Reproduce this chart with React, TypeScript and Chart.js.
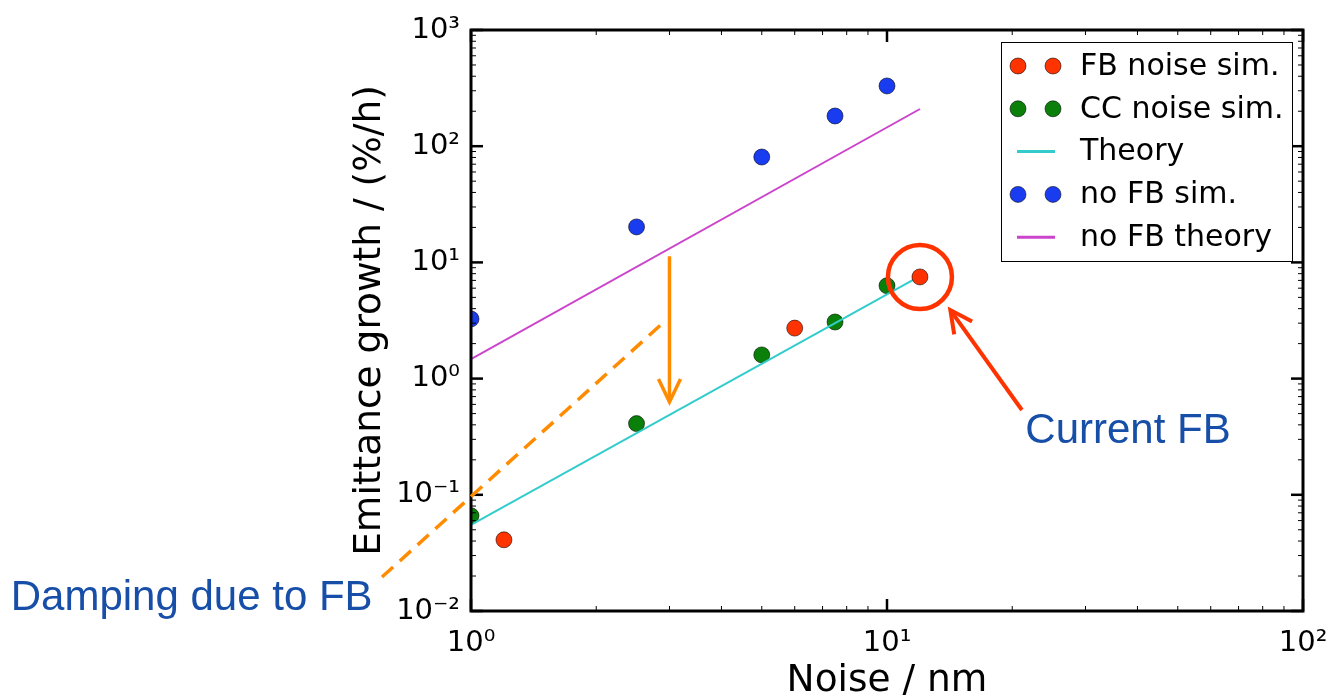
import React, { useEffect, useRef } from 'react';
import { Chart, registerables } from 'chart.js';

Chart.register(...registerables);

// ---- data ----
const fbNoiseX = [1.2, 6, 12];
const fbNoiseY = [0.041, 2.72, 7.5];
const ccNoiseX = [1, 2.5, 5, 7.5, 10];
const ccNoiseY = [0.066, 0.41, 1.6, 3.07, 6.3];
const theoryX = [1, 12];
const theoryY = [0.055, 7.6];
const noFbSimX = [1, 2.5, 5, 7.5, 10];
const noFbSimY = [3.26, 20.2, 80.7, 182, 330];
const noFbTheoryX = [1, 12];
const noFbTheoryY = [1.47, 209];

const xTickValues = [1, 10, 100];
const xTickLabels = ['10⁰', '10¹', '10²'];
const yTickValues = [0.01, 0.1, 1, 10, 100, 1000];
const yTickLabels = ['10⁻²', '10⁻¹', '10⁰', '10¹', '10²', '10³'];

const xTitle = 'Noise / nm';
const yTitle = 'Emittance growth / (%/h)';

// ---- annotations (data coordinates) ----
const dampingLineX = [0.611, 2.91];
const dampingLineY = [0.0196, 3.07];
const dampingArrowX = [3.0, 3.0];
const dampingArrowY = [11.3, 0.63];
const currentFbCircle = [12, 7.5];
const currentFbArrowX = [21.1, 14.2];
const currentFbArrowY = [0.537, 3.89];
const currentFbLabel = 'Current FB';
const currentFbLabelPos = [21.5, 0.279];
const dampingLabel = 'Damping due to FB';
const dampingLabelPos = [0.58, 0.0102];

const FONT = '"DejaVu Sans", sans-serif';
const RED = '#ff3300';
const GREEN = '#0a800a';
const BLUE = '#1a3cf0';
const CYAN = '#33cccc';
const MAGENTA = '#cc44cc';
const ORANGE = '#ff8c00';
const TEXT_BLUE = '#164ea8';

const pts = (xs: number[], ys: number[]) => xs.map((x, i) => ({ x, y: ys[i] }));

const isMajor = (v: number) => Math.abs(Math.log10(v) - Math.round(Math.log10(v))) < 1e-6;

function minorValues(min: number, max: number) {
  const out: number[] = [];
  for (let e = Math.floor(Math.log10(min)); e < Math.ceil(Math.log10(max)); e++) {
    for (let k = 1; k <= 9; k++) out.push(k * Math.pow(10, e));
  }
  out.push(max);
  return out;
}

const framePlugin = {
  id: 'frameTicks',
  afterDatasetsDraw(chart: any) {
    const { ctx, chartArea: a, scales } = chart;
    const x = scales.x, y = scales.y;
    ctx.save();
    ctx.strokeStyle = '#000';
    const seg = (x1: number, y1: number, x2: number, y2: number) => {
      ctx.beginPath(); ctx.moveTo(x1, y1); ctx.lineTo(x2, y2); ctx.stroke();
    };
    minorValues(x.min, x.max).forEach((v) => {
      const px = x.getPixelForValue(v);
      const maj = isMajor(v);
      const L = maj ? 12 : 5;
      ctx.lineWidth = maj ? 2.5 : 1;
      seg(px, a.bottom, px, a.bottom - L);
      seg(px, a.top, px, a.top + L);
    });
    minorValues(y.min, y.max).forEach((v) => {
      const py = y.getPixelForValue(v);
      const maj = isMajor(v);
      const L = maj ? 12 : 5;
      ctx.lineWidth = maj ? 2.5 : 1;
      seg(a.left, py, a.left + L, py);
      seg(a.right, py, a.right - L, py);
    });
    ctx.lineWidth = 3;
    ctx.strokeRect(a.left, a.top, a.right - a.left, a.bottom - a.top);
    ctx.restore();
  },
};

const legendPlugin = {
  id: 'mplLegend',
  afterDraw(chart: any) {
    const { ctx, chartArea: a } = chart;
    const w = 291, h = 219;
    const left = a.right - 11 - w;
    const top = a.top + 12;
    ctx.save();
    ctx.fillStyle = '#fff';
    ctx.fillRect(left, top, w, h);
    ctx.strokeStyle = '#000';
    ctx.lineWidth = 1;
    ctx.strokeRect(left + 0.5, top + 0.5, w, h);
    ctx.font = `30px ${FONT}`;
    ctx.textBaseline = 'middle';
    ctx.textAlign = 'left';
    chart.data.datasets.forEach((ds: any, i: number) => {
      const cy = top + 24 + i * 42.8;
      if (ds.showLine) {
        ctx.strokeStyle = ds.borderColor;
        ctx.lineWidth = 3;
        ctx.beginPath(); ctx.moveTo(left + 16, cy); ctx.lineTo(left + 54, cy); ctx.stroke();
      } else {
        [left + 17, left + 52].forEach((cx) => {
          ctx.beginPath();
          ctx.arc(cx, cy, 8, 0, Math.PI * 2);
          ctx.fillStyle = ds.backgroundColor;
          ctx.fill();
          ctx.lineWidth = 1;
          ctx.strokeStyle = 'rgba(0,0,0,0.55)';
          ctx.stroke();
        });
      }
      ctx.fillStyle = '#000';
      ctx.fillText(ds.label, left + 79, cy + 1);
    });
    ctx.restore();
  },
};

function arrowHead(ctx: CanvasRenderingContext2D, x1: number, y1: number, x2: number, y2: number, back: number, half: number) {
  const dx = x2 - x1, dy = y2 - y1;
  const len = Math.hypot(dx, dy);
  const ux = dx / len, uy = dy / len;
  const bx = x2 - ux * back, by = y2 - uy * back;
  ctx.beginPath();
  ctx.moveTo(bx - uy * half, by + ux * half);
  ctx.lineTo(x2, y2);
  ctx.lineTo(bx + uy * half, by - ux * half);
  ctx.stroke();
}

const annotationPlugin = {
  id: 'annotations',
  afterDraw(chart: any) {
    const { ctx, scales } = chart;
    const X = (v: number) => scales.x.getPixelForValue(v);
    const Y = (v: number) => scales.y.getPixelForValue(v);
    ctx.save();
    // dashed damping line
    ctx.strokeStyle = ORANGE;
    ctx.lineWidth = 3.5;
    ctx.setLineDash([15, 9]);
    ctx.beginPath();
    ctx.moveTo(X(dampingLineX[0]), Y(dampingLineY[0]));
    ctx.lineTo(X(dampingLineX[1]), Y(dampingLineY[1]));
    ctx.stroke();
    ctx.setLineDash([]);
    // damping arrow
    const ax1 = X(dampingArrowX[0]), ay1 = Y(dampingArrowY[0]);
    const ax2 = X(dampingArrowX[1]), ay2 = Y(dampingArrowY[1]);
    ctx.lineWidth = 3.5;
    ctx.beginPath(); ctx.moveTo(ax1, ay1); ctx.lineTo(ax2, ay2); ctx.stroke();
    ctx.lineJoin = 'miter';
    arrowHead(ctx, ax1, ay1, ax2, ay2, 23, 11);
    // current FB circle
    ctx.strokeStyle = RED;
    ctx.lineWidth = 4.5;
    ctx.beginPath();
    ctx.arc(X(currentFbCircle[0]), Y(currentFbCircle[1]), 32, 0, Math.PI * 2);
    ctx.stroke();
    // current FB arrow
    const rx1 = X(currentFbArrowX[0]), ry1 = Y(currentFbArrowY[0]);
    const rx2 = X(currentFbArrowX[1]), ry2 = Y(currentFbArrowY[1]);
    ctx.lineWidth = 4;
    ctx.beginPath(); ctx.moveTo(rx1, ry1); ctx.lineTo(rx2, ry2); ctx.stroke();
    arrowHead(ctx, rx1, ry1, rx2, ry2, 22, 11);
    // texts
    ctx.fillStyle = TEXT_BLUE;
    ctx.font = '42px "Liberation Sans", Arial, sans-serif';
    ctx.textBaseline = 'alphabetic';
    ctx.textAlign = 'left';
    ctx.fillText(currentFbLabel, X(currentFbLabelPos[0]), Y(currentFbLabelPos[1]));
    ctx.textAlign = 'right';
    ctx.fillText(dampingLabel, X(dampingLabelPos[0]), Y(dampingLabelPos[1]));
    ctx.restore();
  },
};

export default function App() {
  const ref = useRef<HTMLCanvasElement>(null);
  useEffect(() => {
    document.body.style.margin = '0';
    document.body.style.overflow = 'hidden';
    const canvas = ref.current;
    if (!canvas) return;
    const chart = new Chart(canvas, {
      type: 'scatter',
      data: {
        datasets: [
          {
            label: 'FB noise sim.', data: pts(fbNoiseX, fbNoiseY), backgroundColor: RED,
            borderColor: 'rgba(0,0,0,0.55)', borderWidth: 1, pointRadius: 8, showLine: false, order: 0, clip: 0,
          } as any,
          {
            label: 'CC noise sim.', data: pts(ccNoiseX, ccNoiseY), backgroundColor: GREEN,
            borderColor: 'rgba(0,0,0,0.55)', borderWidth: 1, pointRadius: 8, showLine: false, order: 2, clip: 0,
          },
          {
            label: 'Theory', data: pts(theoryX, theoryY), borderColor: CYAN, backgroundColor: CYAN,
            borderWidth: 2, pointRadius: 0, showLine: true, order: 1, clip: 0,
          },
          {
            label: 'no FB sim.', data: pts(noFbSimX, noFbSimY), backgroundColor: BLUE,
            borderColor: 'rgba(0,0,0,0.55)', borderWidth: 1, pointRadius: 8, showLine: false, order: 3, clip: 0,
          },
          {
            label: 'no FB theory', data: pts(noFbTheoryX, noFbTheoryY), borderColor: MAGENTA, backgroundColor: MAGENTA,
            borderWidth: 2, pointRadius: 0, showLine: true, order: 4, clip: 0,
          },
        ],
      },
      options: {
        responsive: false,
        animation: false,
        devicePixelRatio: 1,
        layout: { padding: { left: 352, right: 26, top: 30, bottom: 0 } },
        plugins: { legend: { display: false }, tooltip: { enabled: false } },
        scales: {
          x: {
            type: 'logarithmic', min: 1, max: 100, position: 'bottom',
            grid: { display: false, drawTicks: false },
            border: { display: false },
            afterBuildTicks: (s: any) => { s.ticks = xTickValues.map((v) => ({ value: v, major: true })); },
            afterFit: (s: any) => { s.height = 89; s.paddingLeft = 0; s.paddingRight = 0; },
            ticks: {
              autoSkip: false, maxRotation: 0, minRotation: 0, padding: 15, color: '#000',
              font: { family: FONT, size: 29 },
              callback: (_v: any, i: number) => xTickLabels[i],
            },
            title: { display: true, text: xTitle, color: '#000', padding: 0, font: { family: FONT, size: 37.5, lineHeight: 1 } },
          },
          y: {
            type: 'logarithmic', min: 0.01, max: 1000, position: 'left',
            grid: { display: false, drawTicks: false },
            border: { display: false },
            afterBuildTicks: (s: any) => { s.ticks = yTickValues.map((v) => ({ value: v, major: true })); },
            afterFit: (s: any) => { s.width = 119; s.paddingTop = 0; s.paddingBottom = 0; },
            ticks: {
              autoSkip: false, padding: 11, color: '#000',
              font: { family: FONT, size: 29 },
              callback: (_v: any, i: number) => yTickLabels[i],
            },
            title: { display: true, text: yTitle, color: '#000', padding: 0, font: { family: FONT, size: 37.5, lineHeight: 1 } },
          },
        },
      } as any,
      plugins: [framePlugin, annotationPlugin, legendPlugin],
    });
    return () => chart.destroy();
  }, []);
  return (
    <div style={{ width: 1329, height: 700 }}>
      <canvas ref={ref} width={1329} height={700} style={{ display: 'block' }} />
    </div>
  );
}
